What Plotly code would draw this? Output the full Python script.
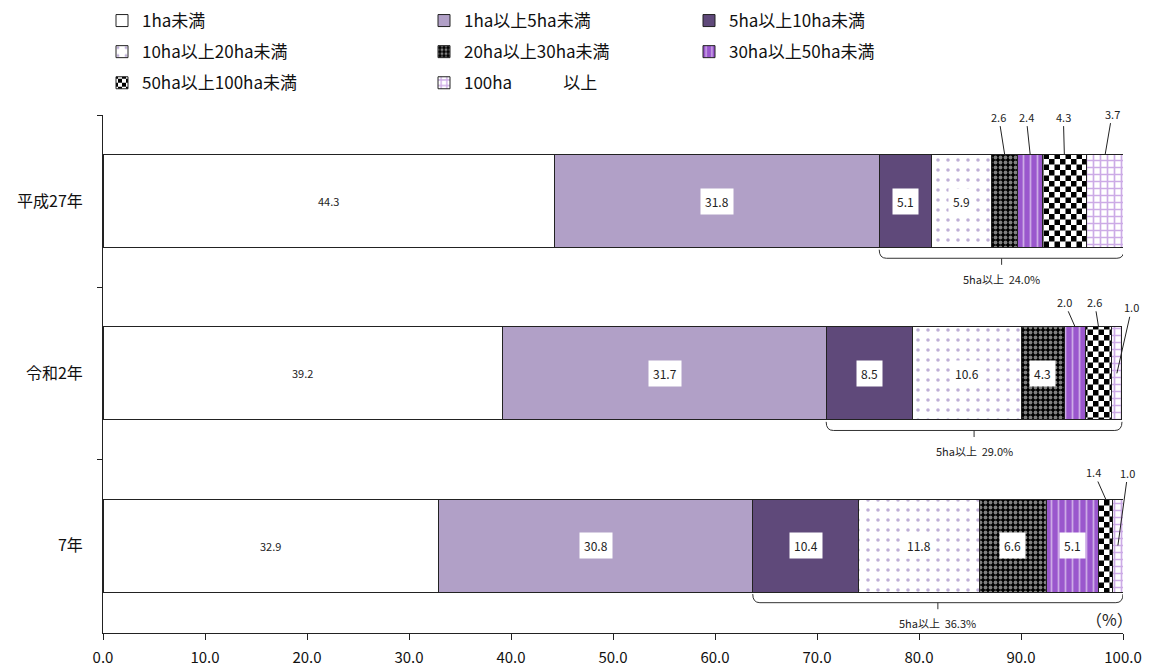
import plotly.graph_objects as go

# ---------------- data ----------------
categories = ["平成27年", "令和2年", "7年"]
series_names = ["1ha未満", "1ha以上5ha未満", "5ha以上10ha未満", "10ha以上20ha未満",
                "20ha以上30ha未満", "30ha以上50ha未満", "50ha以上100ha未満", "100ha\u3000\u3000\u3000以上"]
v_lt1 = [44.3, 39.2, 32.9]
v_1_5 = [31.8, 31.7, 30.8]
v_5_10 = [5.1, 8.5, 10.4]
v_10_20 = [5.9, 10.6, 11.8]
v_20_30 = [2.6, 4.3, 6.6]
v_30_50 = [2.4, 2.0, 5.1]
v_50_100 = [4.3, 2.6, 1.4]
v_100 = [3.7, 1.0, 1.0]
over5_total = [24.0, 29.0, 36.3]
x_ticks = [0, 10, 20, 30, 40, 50, 60, 70, 80, 90, 100]

series_values = [v_lt1, v_1_5, v_5_10, v_10_20, v_20_30, v_30_50, v_50_100, v_100]

# ---------------- styles ----------------
FONT = "Noto Sans CJK JP"
PURPLE = "#9A57CD"
styles = [
    dict(color="#FFFFFF"),
    dict(color="#B1A0C7"),
    dict(color="#5F497A"),
    dict(color="#FFFFFF", pattern=dict(shape=".", fgcolor="#7D5FAD", bgcolor="#FFFFFF", size=10, solidity=0.1)),
    dict(color="#000000", pattern=dict(shape=".", fgcolor="#FFFFFF", bgcolor="#000000", size=5, solidity=0.45)),
    dict(color=PURPLE, pattern=dict(shape="|", fgcolor="#FFFFFF", bgcolor=PURPLE, size=7, solidity=0.25)),
    dict(color="#000000", pattern=dict(shape="+", fgcolor="#010101", bgcolor="#FFFFFF", size=11, solidity=0.5)),
    dict(color="#FFFFFF", pattern=dict(shape="+", fgcolor=PURPLE, bgcolor="#FFFFFF", size=7, solidity=0.42)),
]
legend_of = ["legend", "legend2", "legend3", "legend", "legend2", "legend3", "legend", "legend2"]

# labels placed above bars with leader lines: (category idx, series idx) -> (ax, ay, tip)
outside = {
    (0, 4): (-6, -38, "top"), (0, 5): (-4, -38, "top"), (0, 6): (-1, -38, "top"), (0, 7): (7, -41, "top"),
    (1, 5): (-11, -25, "top"), (1, 6): (-4, -25, "top"), (1, 7): (15, -66, "mid"),
    (2, 6): (-12, -27, "top"), (2, 7): (10, -73, "mid"),
}
BAR_W = 0.54

fig = go.Figure()
for j, (name, vals) in enumerate(zip(series_names, series_values)):
    st = styles[j]
    marker = dict(color=st["color"], line=dict(color="#222222", width=1))
    if "pattern" in st:
        marker["pattern"] = st["pattern"]
    fig.add_trace(go.Bar(
        y=categories, x=vals, name=name, orientation="h", marker=marker,
        legend=legend_of[j], legendgroup=name, hoverinfo="skip",
    ))

annotations = []
shapes = []
for i, cat in enumerate(categories):
    start = 0.0
    for j, vals in enumerate(series_values):
        v = vals[i]
        mid = start + v / 2
        txt = f"{v:.1f}"
        if (i, j) in outside:
            ax, ay, tip = outside[(i, j)]
            ty = i - BAR_W / 2 if tip == "top" else i
            annotations.append(dict(x=mid, y=ty, xref="x", yref="y", text=txt, showarrow=True,
                                    arrowhead=0, arrowwidth=1, arrowcolor="#222222", ax=ax, ay=ay,
                                    font=dict(family=FONT, size=11, color="#222222"), standoff=0))
        elif j == 0:
            annotations.append(dict(x=mid, y=i, xref="x", yref="y", text=txt, showarrow=False,
                                    font=dict(family=FONT, size=11, color="#222222")))
        else:
            annotations.append(dict(x=mid, y=i, xref="x", yref="y", text=txt, showarrow=False,
                                    bgcolor="#FFFFFF", borderpad=4,
                                    font=dict(family=FONT, size=12, color="#222222")))
        start += v
    # brace under the 5ha-and-over part
    x0 = series_values[0][i] + series_values[1][i]
    x1 = sum(s[i] for s in series_values)
    xc = (x0 + x1) / 2
    yb = i + BAR_W / 2
    ytop, yline, ytick = yb + 0.012, yb + 0.062, yb + 0.10
    dx = 0.7
    path = (f"M{x0},{ytop} Q{x0},{yline} {x0+dx},{yline} L{x1-dx},{yline} "
            f"Q{x1},{yline} {x1},{ytop} M{xc},{yline} L{xc},{ytick}")
    shapes.append(dict(type="path", path=path, xref="x", yref="y",
                       line=dict(color="#333333", width=1)))
    annotations.append(dict(x=xc, y=yb + 0.18, xref="x", yref="y",
                            text=f"5ha以上\u2009 {over5_total[i]:.1f}%", showarrow=False,
                            font=dict(family=FONT, size=11, color="#222222")))

annotations.append(dict(x=1.012, y=0.0, xref="paper", yref="paper", xanchor="right", yanchor="bottom",
                        text="（%）", showarrow=False, font=dict(family=FONT, size=16, color="#222222")))

leg_common = dict(orientation="v", yanchor="top", xanchor="left", bgcolor="rgba(0,0,0,0)",
                  font=dict(family=FONT, size=17, color="#111111"), traceorder="grouped",
                  tracegroupgap=6, itemwidth=30)
LEG_Y = (633 - 3) / 518

fig.update_layout(
    width=1149, height=668,
    margin=dict(l=103, r=26, t=115, b=35, autoexpand=False),
    paper_bgcolor="white", plot_bgcolor="white",
    barmode="stack", bargap=1 - BAR_W,
    showlegend=True,
    legend=dict(x=(102 - 103) / 1020, y=LEG_Y, **leg_common),
    legend2=dict(x=(424 - 103) / 1020, y=LEG_Y, **leg_common),
    legend3=dict(x=(689 - 103) / 1020, y=LEG_Y, **leg_common),
    xaxis=dict(range=[0, 100], tickvals=x_ticks, ticktext=[f"{t:.1f}" for t in x_ticks],
               ticks="outside", ticklen=6, tickcolor="#222222", showline=True, linecolor="#222222",
               linewidth=1, showgrid=False, zeroline=False, ticklabelstandoff=5,
               tickfont=dict(family=FONT, size=15, color="#111111")),
    yaxis=dict(type="category", categoryorder="array", categoryarray=categories, autorange="reversed",
               tickson="boundaries", ticks="outside", ticklen=5, tickcolor="#222222",
               showline=True, linecolor="#222222", linewidth=1, showgrid=False, zeroline=False,
               ticklabelstandoff=16, tickfont=dict(family=FONT, size=16, color="#111111")),
    annotations=annotations, shapes=shapes,
)

post = """
(function(){
  document.body.style.margin = '0';
  document.body.style.padding = '0';
  document.body.style.overflow = 'hidden';
  var gd = document.getElementById('{plot_id}');
  function fix(){
    var pats = document.querySelectorAll('pattern');
    pats.forEach(function(p){
      var h = p.outerHTML;
      if (h.indexOf('rgb(1, 1, 1)') < 0 && h.indexOf('#010101') < 0) return;
      var w = parseFloat(p.getAttribute('width')), ht = parseFloat(p.getAttribute('height'));
      while (p.firstChild) p.removeChild(p.firstChild);
      var ns = 'http://www.w3.org/2000/svg';
      function r(x, y, a, b, c){ var e = document.createElementNS(ns, 'rect');
        e.setAttribute('x', x); e.setAttribute('y', y); e.setAttribute('width', a);
        e.setAttribute('height', b); e.setAttribute('fill', c); p.appendChild(e); }
      r(0, 0, w, ht, '#ffffff'); r(0, 0, w/2, ht/2, '#000000'); r(w/2, ht/2, w/2, ht/2, '#000000');
    });
  }
  fix(); setTimeout(fix, 100); setTimeout(fix, 500);
  if (gd && gd.on) gd.on('plotly_afterplot', function(){ setTimeout(fix, 0); });
})();
"""
fig.write_html("out.html", post_script=post, config={"displayModeBar": False})
